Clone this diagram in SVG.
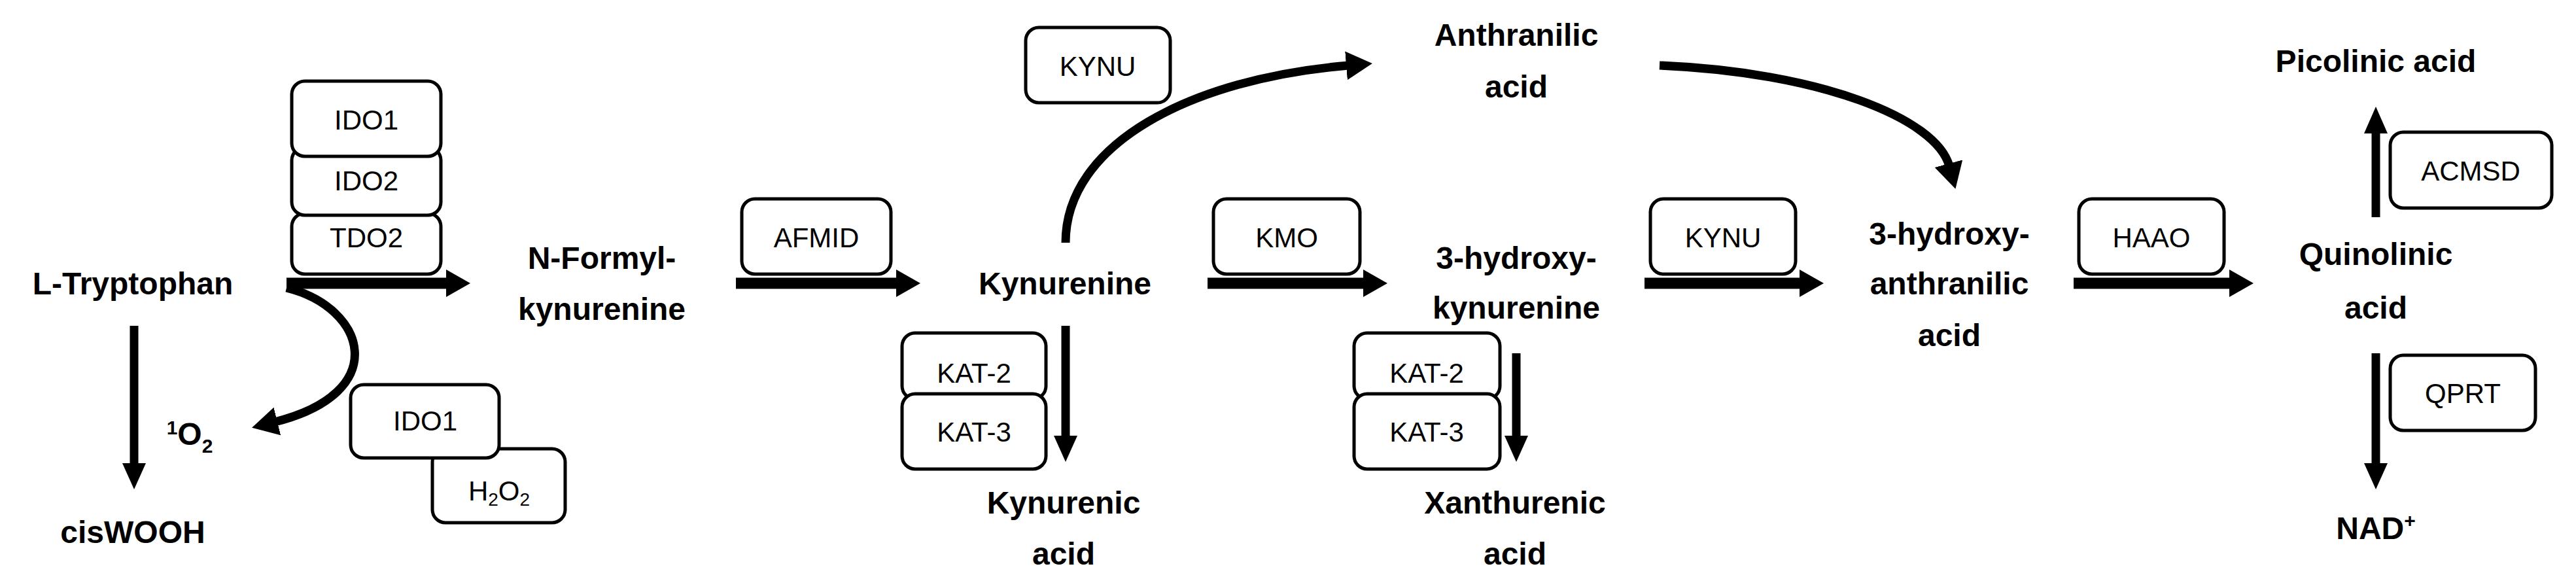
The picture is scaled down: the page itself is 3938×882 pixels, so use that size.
<svg xmlns="http://www.w3.org/2000/svg" width="3938" height="882" viewBox="0 0 3938 882">
<defs>
<style>
.n{font-family:"Liberation Sans",Arial,sans-serif;font-weight:bold;font-size:48px;text-anchor:middle;fill:#000}
.e{font-family:"Liberation Sans",Arial,sans-serif;font-size:42px;text-anchor:middle;fill:#000}
.b{fill:#fff;stroke:#000;stroke-width:5}
.t{stroke:#000;stroke-width:17;fill:none}
.s{stroke:#000;stroke-width:13;fill:none}
</style>
<marker id="ah" markerUnits="userSpaceOnUse" markerWidth="50" markerHeight="50" refX="4" refY="22" orient="auto"><path d="M0,0 L40,22 L0,44 z" fill="#000"/></marker>
</defs>
<g id="connectors">
<line class="t" x1="438" y1="433" x2="684" y2="433"/><polygon points="682,412 719,433 682,454"/>
<line class="t" x1="1125" y1="433" x2="1372" y2="433"/><polygon points="1370,412 1407,433 1370,454"/>
<line class="t" x1="1846" y1="433" x2="2086" y2="433"/><polygon points="2084,412 2121,433 2084,454"/>
<line class="t" x1="2514" y1="433" x2="2753" y2="433"/><polygon points="2751,412 2788,433 2751,454"/>
<line class="t" x1="3170" y1="433" x2="3410" y2="433"/><polygon points="3408,412 3445,433 3408,454"/>
<line class="s" x1="205" y1="498" x2="205" y2="712"/><polygon points="187,708 205,748 223,708"/>
<line class="s" x1="1629" y1="498" x2="1629" y2="670"/><polygon points="1611,666 1629,706 1647,666"/>
<line class="s" x1="2318" y1="540" x2="2318" y2="670"/><polygon points="2300,666 2318,706 2336,666"/>
<line class="s" x1="3632" y1="540" x2="3632" y2="712"/><polygon points="3614,708 3632,748 3650,708"/>
<line class="s" x1="3632" y1="332" x2="3632" y2="200"/><polygon points="3614,204 3632,163 3650,204"/>
<path class="s" d="M438 440 C560 470, 600 600, 420 645" marker-end="url(#ah)"/>
<path class="s" d="M1629 371 C1629 220, 1820 120, 2062 100" marker-end="url(#ah)"/>
<path class="s" d="M2537 100 C2780 110, 2960 180, 2980 254" marker-end="url(#ah)"/>
</g>
<g id="L-Tryptophan"><text class="n" x="203" y="450">L-Tryptophan</text></g>
<g id="cisWOOH"><text class="n" x="203" y="830">cisWOOH</text></g>
<g id="O2"><text class="n" x="290" y="680"><tspan font-size="30" dy="-16">1</tspan><tspan dy="16">O</tspan><tspan font-size="30" dy="12">2</tspan></text></g>
<g id="N-Formylkynurenine"><text class="n" x="920" y="411">N-Formyl-</text><text class="n" x="920" y="489">kynurenine</text></g>
<g id="Kynurenine"><text class="n" x="1628" y="450">Kynurenine</text></g>
<g id="Kynurenic"><text class="n" x="1626" y="785">Kynurenic</text><text class="n" x="1626" y="863">acid</text></g>
<g id="Anthranilic"><text class="n" x="2318" y="70">Anthranilic</text><text class="n" x="2318" y="149">acid</text></g>
<g id="3HK"><text class="n" x="2318" y="411">3-hydroxy-</text><text class="n" x="2318" y="487">kynurenine</text></g>
<g id="Xanthurenic"><text class="n" x="2316" y="785">Xanthurenic</text><text class="n" x="2316" y="863">acid</text></g>
<g id="3HAA"><text class="n" x="2980" y="374">3-hydroxy-</text><text class="n" x="2980" y="450">anthranilic</text><text class="n" x="2980" y="529">acid</text></g>
<g id="Quinolinic"><text class="n" x="3632" y="405">Quinolinic</text><text class="n" x="3632" y="487">acid</text></g>
<g id="Picolinic"><text class="n" x="3632" y="110">Picolinic acid</text></g>
<g id="NAD"><text class="n" x="3632" y="824">NAD<tspan font-size="30" dy="-18">+</tspan></text></g>
<g id="TDO2"><rect class="b" x="446" y="326" width="228" height="93" rx="20"/><text class="e" x="560" y="378">TDO2</text></g>
<g id="IDO2"><rect class="b" x="446" y="225" width="228" height="104" rx="20"/><text class="e" x="560" y="291">IDO2</text></g>
<g id="IDO1"><rect class="b" x="446" y="124" width="228" height="115" rx="20"/><text class="e" x="560" y="198">IDO1</text></g>
<g id="H2O2"><rect class="b" x="661" y="686" width="203" height="113" rx="20"/><text class="e" x="763" y="765">H<tspan font-size="28" dy="8">2</tspan><tspan dy="-8">O</tspan><tspan font-size="28" dy="8">2</tspan></text></g>
<g id="IDO1b"><rect class="b" x="536" y="588" width="227" height="112" rx="20"/><text class="e" x="650" y="658">IDO1</text></g>
<g id="AFMID"><rect class="b" x="1134" y="304" width="228" height="115" rx="20"/><text class="e" x="1248" y="378">AFMID</text></g>
<g id="KYNU1"><rect class="b" x="1568" y="42" width="221" height="115" rx="20"/><text class="e" x="1678" y="116">KYNU</text></g>
<g id="KMO"><rect class="b" x="1855" y="304" width="224" height="115" rx="20"/><text class="e" x="1967" y="378">KMO</text></g>
<g id="KYNU2"><rect class="b" x="2523" y="304" width="222" height="115" rx="20"/><text class="e" x="2634" y="378">KYNU</text></g>
<g id="HAAO"><rect class="b" x="3178" y="304" width="222" height="115" rx="20"/><text class="e" x="3289" y="378">HAAO</text></g>
<g id="ACMSD"><rect class="b" x="3654" y="202" width="247" height="116" rx="20"/><text class="e" x="3777" y="276">ACMSD</text></g>
<g id="QPRT"><rect class="b" x="3654" y="543" width="222" height="115" rx="20"/><text class="e" x="3765" y="616">QPRT</text></g>
<g id="KAT2a"><rect class="b" x="1379" y="509" width="220" height="101" rx="20"/><text class="e" x="1489" y="585">KAT-2</text></g>
<g id="KAT3a"><rect class="b" x="1379" y="602" width="220" height="115" rx="20"/><text class="e" x="1489" y="675">KAT-3</text></g>
<g id="KAT2b"><rect class="b" x="2070" y="509" width="223" height="101" rx="20"/><text class="e" x="2181" y="585">KAT-2</text></g>
<g id="KAT3b"><rect class="b" x="2070" y="602" width="223" height="115" rx="20"/><text class="e" x="2181" y="675">KAT-3</text></g>
</svg>
